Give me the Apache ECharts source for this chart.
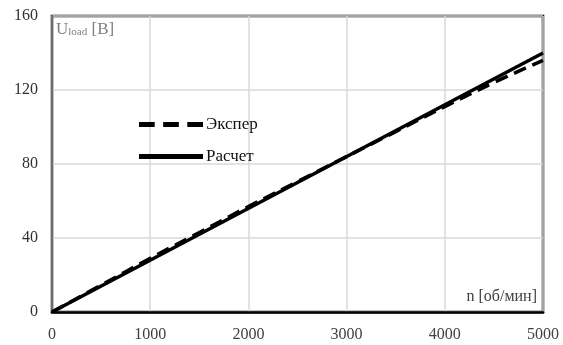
<!DOCTYPE html>
<html><head><meta charset="utf-8">
<script src="https://cdn.jsdelivr.net/npm/echarts@6/dist/echarts.min.js"></script>
<style>html,body{margin:0;padding:0;background:#fff}#c{width:563px;height:345px}</style>
</head><body><div id="c"></div>
<script>
var rpm = [0, 500, 1000, 1500, 2000, 2500, 3000, 3500, 4000, 4500, 5000];
var experValues = [0, 14.5, 29, 43, 57, 70.5, 84, 97.5, 111, 124, 136];
var calcRpm = [0, 5000];
var calcValues = [0, 140];
var xTicks = [0, 1000, 2000, 3000, 4000, 5000];
var yTicks = [0, 40, 80, 120, 160];
var seriesNames = ['Экспер', 'Расчет'];

var chart = echarts.init(document.getElementById('c'));
var font = '"Liberation Serif", "Times New Roman", serif';
chart.setOption({
  animation: false,
  grid: {left: 52, right: 20, top: 16, bottom: 33, show: true, borderColor: '#000', borderWidth: 2.5, backgroundColor: 'transparent'},
  xAxis: {type: 'value', min: xTicks[0], max: xTicks[xTicks.length-1], interval: 1000,
    axisLine: {show: true, lineStyle: {color: '#000', width: 2.5}},
    axisTick: {show: false},
    splitLine: {show: true, lineStyle: {color: '#d9d9d9', width: 1.5}},
    axisLabel: {fontFamily: font, fontSize: 16, color: '#404040', margin: 15, formatter: function(v){return String(v);}}
  },
  yAxis: {type: 'value', min: yTicks[0], max: yTicks[yTicks.length-1], interval: 40,
    axisLine: {show: true, lineStyle: {color: '#6e6e6e', width: 2}},
    axisTick: {show: false},
    splitLine: {show: true, lineStyle: {color: '#d9d9d9', width: 1.5}},
    axisLabel: {fontFamily: font, fontSize: 16, color: '#303030', margin: 14}
  },
  legend: {orient: 'vertical', left: 134, top: 111, itemWidth: 64, itemHeight: 14, itemGap: 15,
    textStyle: {fontFamily: font, fontSize: 17, color: '#111', padding: [0,0,0,-2]},
    data: [
      {name: seriesNames[0], icon: 'path://M0,0 L13,0 L13,4 L0,4 Z M20,0 L33,0 L33,4 L20,4 Z M40,0 L53,0 L53,4 L40,4 Z'},
      {name: seriesNames[1], icon: 'path://M0,0 L53,0 L53,4 L0,4 Z'}
    ]
  },
  graphic: [
    {type: 'text', left: 56, top: 21, style: {
      text: '{a|U}{b|load}{a| [B]}',
      rich: {a: {fontFamily: font, fontSize: 17, fill: '#7f7f7f'}, b: {fontFamily: font, fontSize: 11, fill: '#7f7f7f', verticalAlign: 'bottom', padding: [6,0,0,0]}}
    }},
    {type: 'text', right: 26, top: 289, style: {text: 'n [об/мин]', fontFamily: font, fontSize: 16, fill: '#404040'}}
  ],
  series: [
    {name: seriesNames[0], type: 'line', showSymbol: false, smooth: true,
      data: rpm.map(function(v,i){return [v, experValues[i]];}),
      lineStyle: {color: '#000', width: 3.5, type: [13, 7]}, itemStyle: {color: '#000'}},
    {name: seriesNames[1], type: 'line', showSymbol: false,
      data: calcRpm.map(function(v,i){return [v, calcValues[i]];}),
      lineStyle: {color: '#000', width: 3.5}, itemStyle: {color: '#000'}}
  ]
});
</script></body></html>
